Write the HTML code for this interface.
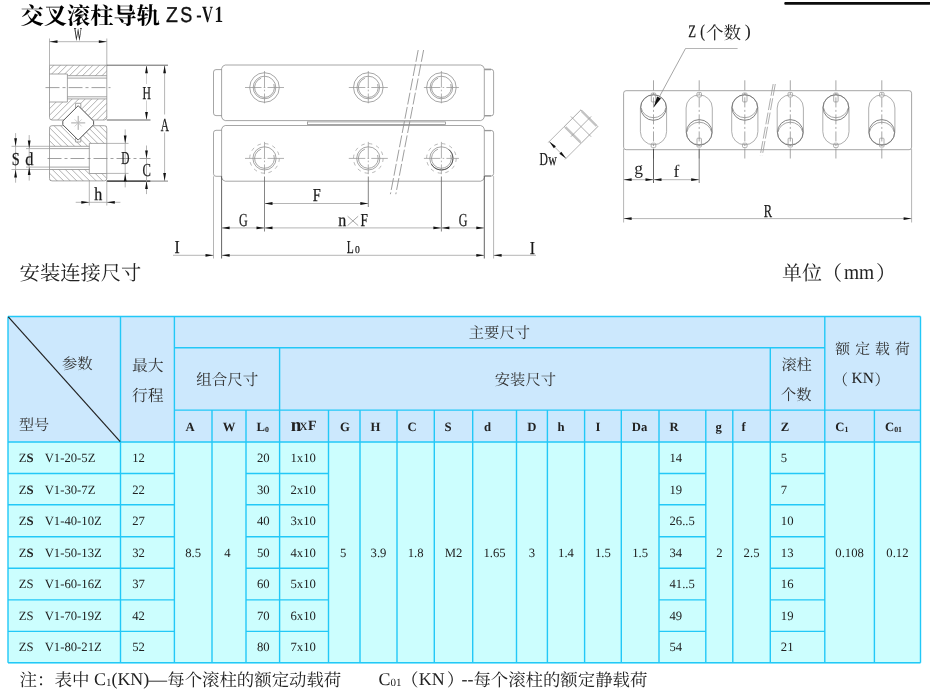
<!DOCTYPE html>
<html lang="zh"><head><meta charset="utf-8"><title>交叉滚柱导轨 ZS-V1</title>
<style>
html,body{margin:0;padding:0;background:#fff}
body{will-change:transform;text-rendering:geometricPrecision;width:930px;height:690px;position:relative;overflow:hidden;font-family:"Liberation Serif",serif;color:#222}
svg{position:absolute;left:0;top:0}
.t{position:absolute;white-space:nowrap;line-height:1;font-family:"Liberation Serif",serif}
.t sub{font-size:62%;vertical-align:baseline;position:relative;top:.12em}
.a{position:absolute;white-space:nowrap;line-height:1;color:transparent;font-family:"Liberation Serif",serif;pointer-events:none}
.o{stroke:#888;stroke-width:.75;fill:none}
.o2{stroke:#9a9a9a;stroke-width:.8;fill:none}
.k{stroke:#3c3c3c;stroke-width:.8;fill:none}
.k2{stroke:#666;stroke-width:.8;fill:none}
.k3{stroke:#747474;stroke-width:.9;fill:none}
.dm{stroke:#a2a2a2;stroke-width:.8;fill:none}
.dl{stroke:#c4c4c4;stroke-width:.8;fill:none}
.ht{stroke:#7c7c7c;stroke-width:.6;fill:none}
.cl{stroke:#888;stroke-width:.8;fill:none;stroke-dasharray:14 3 3 3}
.cl2{stroke:#8a8a8a;stroke-width:.75;fill:none;stroke-dasharray:10.04 2.5 2 2.5}
.cm{stroke:#949494;stroke-width:.75;fill:none;stroke-dasharray:16.5 2.2 1.6 2.2}
.ds{stroke:#a0a0a0;stroke-width:.75;fill:none;stroke-dasharray:3.6 4.15}
.br{stroke:#8c8c8c;stroke-width:.85;fill:none;stroke-dasharray:12 2.5}
.br2{stroke:#999;stroke-width:.8;fill:none;stroke-dasharray:12 2.5}
.tk{stroke:#c4c4c4;stroke-width:2.4;fill:none}
.ar{fill:#111;stroke:none}
.lb{font-family:"Liberation Serif",serif;fill:#1a1a1a;stroke:#1a1a1a;stroke-width:.25}
.lb3{font-family:"Liberation Serif",serif;fill:#222}
.lb2{font-family:"Liberation Sans",sans-serif;fill:#555}
.ts{font-family:"Liberation Sans",sans-serif;fill:#111;stroke:#111;stroke-width:.35}
.tb{font-family:"Liberation Serif",serif;font-weight:bold;fill:#111}
.cj{font-family:"Liberation Serif","Noto Serif CJK SC",serif}
</style></head><body>
<svg width="930" height="690" viewBox="0 0 930 690" role="img" aria-label="交叉滚柱导轨 ZS-V1 结构图与尺寸表">
<g id="table"><rect x="8" y="316.5" width="912.5" height="125.5" fill="#cce8fd"/><rect x="8" y="442.0" width="912.5" height="221.59999999999997" fill="#ccfefe"/><path d="M8 316.5H920.5M8 662.8H920.5M8 316.5V662.8M920.5 316.5V662.8M120.5 316.5V662.8M174.4 316.5V662.8M174.4 347.8H824.8M824.8 316.5V662.8M174.4 410.1H920.5M279.6 347.8V662.8M770.3 347.8V662.8M8 442.0H920.5M212 410.1V662.8M246 410.1V662.8M328.5 410.1V662.8M360 410.1V662.8M397 410.1V662.8M434.3 410.1V662.8M472.7 410.1V662.8M516.5 410.1V662.8M547.4 410.1V662.8M584.6 410.1V662.8M621.3 410.1V662.8M659 410.1V662.8M705.8 410.1V662.8M732.8 410.1V662.8M874.4 410.1V662.8M8 473.5H174.4M246 473.5H328.5M659 473.5H705.8M770.3 473.5H824.8M8 504.8H174.4M246 504.8H328.5M659 504.8H705.8M770.3 504.8H824.8M8 536.8H174.4M246 536.8H328.5M659 536.8H705.8M770.3 536.8H824.8M8 568.2H174.4M246 568.2H328.5M659 568.2H705.8M770.3 568.2H824.8M8 599.9H174.4M246 599.9H328.5M659 599.9H705.8M770.3 599.9H824.8M8 631.4H174.4M246 631.4H328.5M659 631.4H705.8M770.3 631.4H824.8" stroke="#22c8f7" stroke-width="1.4" fill="none"/><line x1="8.3" y1="316.8" x2="120.2" y2="441.7" stroke="#222" stroke-width="1.2"/></g>
<g id="drawing"><clipPath id="cu"><path d="M49.5 65.2H106.8V75.7H67.4V74H49.5ZM49.5 102H67.4V98.9H106.8V120.0H92.5L80.8 108.3V103.3H75.6V108.3L63.9 120.0H49.5Z"/></clipPath>
<path d="M-25.5 60.2L-90.3 125M-19 60.2L-83.8 125M-12.5 60.2L-77.3 125M-6 60.2L-70.8 125M0.5 60.2L-64.3 125M7 60.2L-57.8 125M13.5 60.2L-51.3 125M20 60.2L-44.8 125M26.5 60.2L-38.3 125M33 60.2L-31.8 125M39.5 60.2L-25.3 125M46 60.2L-18.8 125M52.5 60.2L-12.3 125M59 60.2L-5.8 125M65.5 60.2L0.7 125M72 60.2L7.2 125M78.5 60.2L13.7 125M85 60.2L20.2 125M91.5 60.2L26.7 125M98 60.2L33.2 125M104.5 60.2L39.7 125M111 60.2L46.2 125M117.5 60.2L52.7 125M124 60.2L59.2 125M130.5 60.2L65.7 125M137 60.2L72.2 125M143.5 60.2L78.7 125M150 60.2L85.2 125M156.5 60.2L91.7 125M163 60.2L98.2 125M169.5 60.2L104.7 125M176 60.2L111.2 125M182.5 60.2L117.7 125M189 60.2L124.2 125" class="ht" clip-path="url(#cu)"/>
<clipPath id="cl"><path d="M49.5 125.7H63.8L75.6 137.5V142H80.8V137.5L92.6 125.7H106.8V143.4H89.3V146.3H49.5ZM49.5 169.5H89.3V173.5H106.8V180.9H49.5Z"/></clipPath>
<path d="M-35.5 120.7L29.7 185.9M-29 120.7L36.2 185.9M-22.5 120.7L42.7 185.9M-16 120.7L49.2 185.9M-9.5 120.7L55.7 185.9M-3 120.7L62.2 185.9M3.5 120.7L68.7 185.9M10 120.7L75.2 185.9M16.5 120.7L81.7 185.9M23 120.7L88.2 185.9M29.5 120.7L94.7 185.9M36 120.7L101.2 185.9M42.5 120.7L107.7 185.9M49 120.7L114.2 185.9M55.5 120.7L120.7 185.9M62 120.7L127.2 185.9M68.5 120.7L133.7 185.9M75 120.7L140.2 185.9M81.5 120.7L146.7 185.9M88 120.7L153.2 185.9M94.5 120.7L159.7 185.9M101 120.7L166.2 185.9M107.5 120.7L172.7 185.9M114 120.7L179.2 185.9M120.5 120.7L185.7 185.9M127 120.7L192.2 185.9M133.5 120.7L198.7 185.9M140 120.7L205.2 185.9M146.5 120.7L211.7 185.9M153 120.7L218.2 185.9M159.5 120.7L224.7 185.9M166 120.7L231.2 185.9M172.5 120.7L237.7 185.9M179 120.7L244.2 185.9" class="ht" clip-path="url(#cl)"/>
<path d="M49.5 65.2H106.8V117.5Q106.8 120.0 104.3 120.0H92.5L80.8 108.3V103.3H75.6V108.3L63.9 120.0H52Q49.5 120.0 49.5 117.5Z" class="o"/>
<path d="M49.5 74H67.4V102H49.5M67.4 75.7H106.8M67.4 78.1H106.8M67.4 96.8H106.8M67.4 98.9H106.8" class="o"/>
<path d="M52 125.7H63.8L75.6 137.5V142H80.8V137.5L92.6 125.7H104.3Q106.8 125.7 106.8 128.2V178.4Q106.8 180.9 104.3 180.9H52Q49.5 180.9 49.5 178.4V128.2Q49.5 125.7 52 125.7Z" class="o"/>
<path d="M106.8 143.4H89.3V173.5H106.8M49.5 146.3H89.3M49.5 148.6H89.3M49.5 167.1H89.3M49.5 169.5H89.3" class="o"/>
<path d="M78.2 105.7L93.6 121.1V124.7L78.2 140.1L62.8 124.7V121.1Z" stroke="#5a5a5a" stroke-width="1" fill="#fff"/>
<path d="M71.2 122.9H85.2M78.2 115.9V129.9" class="o"/>
<path d="M74.7 119.4L81.7 126.4M81.7 119.4L74.7 126.4" class="dl"/>
<line x1="45.5" y1="87.6" x2="110.5" y2="87.6" class="cl"/>
<line x1="47.5" y1="158.5" x2="150.5" y2="158.5" class="cl"/>
<line x1="49.5" y1="38.5" x2="49.5" y2="65.2" class="dm"/>
<line x1="106.8" y1="38.5" x2="106.8" y2="65.2" class="dm"/>
<line x1="49.5" y1="41.7" x2="106.8" y2="41.7" class="dm"/>
<path d="M49.5 41.7L57.5 40.3L57.5 43.1Z" class="ar"/>
<path d="M106.8 41.7L98.8 43.1L98.8 40.3Z" class="ar"/>
<text x="78" y="39.6" class="lb" font-size="18.3" text-anchor="middle" textLength="7.8" lengthAdjust="spacingAndGlyphs">W</text>
<line x1="106.8" y1="65.2" x2="168" y2="65.2" class="k"/>
<line x1="106.8" y1="120" x2="150.5" y2="120" class="k"/>
<line x1="106.8" y1="181.1" x2="168" y2="181.1" class="k2"/>
<line x1="106.8" y1="181.1" x2="150.3" y2="181.1" stroke="#333" stroke-width="1.3"/>
<line x1="146.5" y1="65.2" x2="146.5" y2="120" class="dl"/>
<path d="M146.5 65.2L147.9 73.2L145.1 73.2Z" class="ar"/>
<path d="M146.5 120L145.1 112L147.9 112Z" class="ar"/>
<line x1="164.6" y1="65.2" x2="164.6" y2="181.1" class="dm"/>
<path d="M164.6 65.2L166 73.2L163.2 73.2Z" class="ar"/>
<path d="M164.6 181.1L163.2 173.1L166 173.1Z" class="ar"/>
<rect x="144" y="84" width="5" height="16.5" fill="#fff"/>
<text x="146.7" y="98.6" class="lb" font-size="18.3" text-anchor="middle" textLength="8.4" lengthAdjust="spacingAndGlyphs">H</text>
<rect x="162" y="114.5" width="5" height="18" fill="#fff"/>
<text x="164.9" y="130.8" class="lb" font-size="18.3" text-anchor="middle" textLength="8.2" lengthAdjust="spacingAndGlyphs">A</text>
<line x1="106.8" y1="143.4" x2="128.5" y2="143.4" class="dm"/>
<line x1="106.8" y1="173.4" x2="128.5" y2="173.4" class="dm"/>
<line x1="125.2" y1="129.4" x2="125.2" y2="187.4" class="dm"/>
<path d="M125.2 143.4L123.8 135.4L126.6 135.4Z" class="ar"/>
<path d="M125.2 173.4L126.6 181.4L123.8 181.4Z" class="ar"/>
<text x="125.3" y="164.2" class="lb" font-size="18.3" text-anchor="middle" textLength="8.2" lengthAdjust="spacingAndGlyphs">D</text>
<line x1="146.5" y1="145.5" x2="146.5" y2="194.1" class="dm"/>
<path d="M146.5 158.5L145.1 150.5L147.9 150.5Z" class="ar"/>
<path d="M146.5 181.1L147.9 189.1L145.1 189.1Z" class="ar"/>
<text x="146.8" y="175.6" class="lb" font-size="18.3" text-anchor="middle" textLength="8.4" lengthAdjust="spacingAndGlyphs">C</text>
<line x1="11.5" y1="146.3" x2="49.5" y2="146.3" class="dm"/>
<line x1="11.5" y1="169.5" x2="49.5" y2="169.5" class="dm"/>
<line x1="26" y1="148.6" x2="49.5" y2="148.6" class="dm"/>
<line x1="26" y1="167.1" x2="49.5" y2="167.1" class="dm"/>
<line x1="15.6" y1="133.1" x2="15.6" y2="182.7" class="dm"/>
<path d="M15.6 146.3L14.2 138.3L17 138.3Z" class="ar"/>
<path d="M15.6 169.5L17 177.5L14.2 177.5Z" class="ar"/>
<line x1="29.2" y1="135.1" x2="29.2" y2="180.6" class="dm"/>
<path d="M29.2 148.6L27.8 140.6L30.6 140.6Z" class="ar"/>
<path d="M29.2 167.1L30.6 175.1L27.8 175.1Z" class="ar"/>
<text x="15.8" y="164.8" class="lb" font-size="18.3" text-anchor="middle" textLength="8" lengthAdjust="spacingAndGlyphs">S</text>
<text x="29.4" y="164.8" class="lb" font-size="18.3" text-anchor="middle" textLength="8.2" lengthAdjust="spacingAndGlyphs">d</text>
<line x1="89.3" y1="180.9" x2="89.3" y2="205.5" class="dm"/>
<line x1="106.8" y1="180.9" x2="106.8" y2="205.5" class="dm"/>
<line x1="75.7" y1="202.3" x2="120.4" y2="202.3" class="dm"/>
<path d="M89.3 202.3L81.3 203.7L81.3 200.9Z" class="ar"/>
<path d="M106.8 202.3L114.8 200.9L114.8 203.7Z" class="ar"/>
<text x="98.3" y="200.3" class="lb" font-size="18.3" text-anchor="middle" textLength="8" lengthAdjust="spacingAndGlyphs">h</text>
<path d="M225.2 65.0H480.7Q483.7 65.6 484.3 68.6V117Q483.7 120 480.7 120.6H225.2Q222.2 120 221.6 117V68.6Q222.2 65.6 225.2 65.0Z" class="o"/>
<path d="M225.2 125.5H480.7Q483.7 126.1 484.3 129.1V177.6Q483.7 180.6 480.7 181.2H225.2Q222.2 180.6 221.6 177.6V129.1Q222.2 126.1 225.2 125.5Z" class="o"/>
<path d="M221.6 69.6H216Q213.5 69.6 213.5 72.1V113.1Q213.5 115.6 216 115.6H221.6" class="o"/>
<path d="M221.6 130.3H216Q213.5 130.3 213.5 132.8V173.8Q213.5 176.3 216 176.3H221.6" class="o"/>
<path d="M484.3 69.3H491.1Q493.6 69.3 493.6 71.8V113.3Q493.6 115.8 491.1 115.8H484.3" class="o"/>
<path d="M484.3 130.4H491.1Q493.6 130.4 493.6 132.9V173.6Q493.6 176.1 491.1 176.1H484.3" class="o"/>
<path d="M484.6 130.6H491M484.6 176H491M484.6 69.5H491M484.6 115.6H491" stroke="#999" stroke-width="1.3" fill="none"/>
<rect x="307.6" y="121.9" width="138" height="2.5" class="o" fill="#ccc"/>
<circle cx="264.5" cy="87.5" r="14.8" class="o"/>
<circle cx="264.5" cy="87.5" r="11.3" class="o"/>
<path d="M273.8 84.11A9.9 9.9 0 1 1 261.11 78.2" class="o"/>
<circle cx="264.5" cy="158.4" r="14.8" class="ds"/>
<circle cx="264.5" cy="158.4" r="11.6" class="o"/>
<path d="M273.8 155.01A9.9 9.9 0 1 1 261.11 149.1" class="o"/>
<line x1="245" y1="87.5" x2="284" y2="87.5" class="cm" stroke-dasharray="16.5 2 2 2"/>
<line x1="264.5" y1="71" x2="264.5" y2="103.3" class="cm" stroke-dasharray="13.3 2 2 2"/>
<line x1="245" y1="158.4" x2="284" y2="158.4" class="cm" stroke-dasharray="16.5 2 2 2"/>
<line x1="264.5" y1="141.9" x2="264.5" y2="174.2" class="cm" stroke-dasharray="13.3 2 2 2"/>
<circle cx="368.3" cy="87.5" r="14.8" class="o"/>
<circle cx="368.3" cy="87.5" r="11.3" class="o"/>
<path d="M377.6 84.11A9.9 9.9 0 1 1 364.91 78.2" class="o"/>
<circle cx="368.3" cy="158.4" r="14.8" class="ds"/>
<circle cx="368.3" cy="158.4" r="11.6" class="o"/>
<path d="M377.6 155.01A9.9 9.9 0 1 1 364.91 149.1" class="o"/>
<line x1="348.8" y1="87.5" x2="387.8" y2="87.5" class="cm" stroke-dasharray="16.5 2 2 2"/>
<line x1="368.3" y1="71" x2="368.3" y2="103.3" class="cm" stroke-dasharray="13.3 2 2 2"/>
<line x1="348.8" y1="158.4" x2="387.8" y2="158.4" class="cm" stroke-dasharray="16.5 2 2 2"/>
<line x1="368.3" y1="141.9" x2="368.3" y2="174.2" class="cm" stroke-dasharray="13.3 2 2 2"/>
<circle cx="441.4" cy="87.5" r="14.8" class="o"/>
<circle cx="441.4" cy="87.5" r="11.3" class="o"/>
<path d="M450.7 84.11A9.9 9.9 0 1 1 438.01 78.2" class="o"/>
<circle cx="441.4" cy="158.4" r="14.8" class="ds"/>
<circle cx="441.4" cy="158.4" r="11.6" class="o"/>
<path d="M448.86 149.51A11.6 11.6 0 1 1 431.35 164.2" class="k"/>
<path d="M450.7 155.01A9.9 9.9 0 1 1 438.01 149.1" class="o"/>
<line x1="423.9" y1="87.5" x2="458.9" y2="87.5" class="cm" stroke-dasharray="14.5 2 2 2"/>
<line x1="441.4" y1="71" x2="441.4" y2="103.3" class="cm" stroke-dasharray="13.3 2 2 2"/>
<line x1="423.9" y1="158.4" x2="458.9" y2="158.4" class="cm" stroke-dasharray="14.5 2 2 2"/>
<line x1="441.4" y1="141.9" x2="441.4" y2="174.2" class="cm" stroke-dasharray="13.3 2 2 2"/>
<line x1="418.2" y1="50" x2="390.4" y2="194.2" class="br"/>
<line x1="423.6" y1="50" x2="395.8" y2="194.2" class="br"/>
<line x1="213.5" y1="176.3" x2="213.5" y2="258.5" class="dm"/>
<line x1="221.6" y1="176.3" x2="221.6" y2="258.5" class="k"/>
<line x1="484.3" y1="176.1" x2="484.3" y2="258.5" class="k"/>
<line x1="493.6" y1="176.1" x2="493.6" y2="258.5" class="dm"/>
<line x1="264.5" y1="176.5" x2="264.5" y2="231.5" class="k2"/>
<line x1="368.3" y1="176.5" x2="368.3" y2="207" class="k2"/>
<line x1="441.4" y1="176.5" x2="441.4" y2="231.5" class="k2"/>
<line x1="264.5" y1="203.5" x2="368.3" y2="203.5" class="dm"/>
<path d="M264.5 203.5L272.5 202.1L272.5 204.9Z" class="ar"/>
<path d="M368.3 203.5L360.3 204.9L360.3 202.1Z" class="ar"/>
<line x1="221.6" y1="227.9" x2="264.5" y2="227.9" class="dm"/>
<path d="M221.6 227.9L229.6 226.5L229.6 229.3Z" class="ar"/>
<path d="M264.5 227.9L256.5 229.3L256.5 226.5Z" class="ar"/>
<line x1="264.5" y1="227.9" x2="441.4" y2="227.9" class="dm"/>
<path d="M264.5 227.9L272.5 226.5L272.5 229.3Z" class="ar"/>
<path d="M441.4 227.9L433.4 229.3L433.4 226.5Z" class="ar"/>
<line x1="441.4" y1="227.9" x2="484.3" y2="227.9" class="dm"/>
<path d="M441.4 227.9L449.4 226.5L449.4 229.3Z" class="ar"/>
<path d="M484.3 227.9L476.3 229.3L476.3 226.5Z" class="ar"/>
<line x1="221.6" y1="255.3" x2="484.3" y2="255.3" class="dm"/>
<path d="M221.6 255.3L229.6 253.9L229.6 256.7Z" class="ar"/>
<path d="M484.3 255.3L476.3 256.7L476.3 253.9Z" class="ar"/>
<line x1="173" y1="255.3" x2="213.5" y2="255.3" class="dm"/>
<path d="M213.5 255.3L205.5 256.7L205.5 253.9Z" class="ar"/>
<line x1="493.6" y1="255.3" x2="536" y2="255.3" class="dm"/>
<path d="M493.6 255.3L501.6 253.9L501.6 256.7Z" class="ar"/>
<text x="316.7" y="201" class="lb" font-size="18.3" text-anchor="middle" textLength="8" lengthAdjust="spacingAndGlyphs">F</text>
<text x="243.4" y="225.7" class="lb" font-size="18.3" text-anchor="middle" textLength="8.7" lengthAdjust="spacingAndGlyphs">G</text>
<text x="463.2" y="225.7" class="lb" font-size="18.3" text-anchor="middle" textLength="8.7" lengthAdjust="spacingAndGlyphs">G</text>
<text x="342.2" y="225.8" class="lb" font-size="18.3" text-anchor="middle" textLength="8" lengthAdjust="spacingAndGlyphs">n</text>
<path d="M347.6 216.2L358.2 225.6M358.2 216.2L347.6 225.6" class="o"/>
<text x="364.3" y="225.8" class="lb" font-size="18.3" text-anchor="middle" textLength="7.4" lengthAdjust="spacingAndGlyphs">F</text>
<text x="350.3" y="253.2" class="lb" font-size="18.3" text-anchor="middle" textLength="7" lengthAdjust="spacingAndGlyphs">L</text>
<text x="357.4" y="253.2" class="lb" font-size="10.5" text-anchor="middle" textLength="4.8" lengthAdjust="spacingAndGlyphs">0</text>
<text x="177" y="253.4" class="lb" font-size="18.3" text-anchor="middle" textLength="5.2" lengthAdjust="spacingAndGlyphs">I</text>
<text x="532.4" y="253.8" class="lb" font-size="18.3" text-anchor="middle" textLength="5.2" lengthAdjust="spacingAndGlyphs">I</text>
<path d="M581 109.8L597.8 126.6L581 143.4L564.2 126.6Z" class="o"/>
<path d="M581.6 111L596.6 126M565.4 127.2L580.4 142.2" class="tk"/>
<line x1="591.17" y1="116.43" x2="570.83" y2="136.77" class="o2"/>
<line x1="570.83" y1="116.43" x2="591.17" y2="136.77" class="o2"/>
<line x1="564.2" y1="126.6" x2="548.22" y2="142.58" class="dm"/>
<line x1="581" y1="143.4" x2="565.02" y2="159.38" class="dm"/>
<line x1="549.22" y1="141.58" x2="566.02" y2="158.38" class="dm"/>
<path d="M549.22 141.58L555.87 146.25L553.89 148.23Z" class="ar"/>
<path d="M566.02 158.38L559.37 153.71L561.35 151.73Z" class="ar"/>
<text x="543.6" y="165.4" class="lb" font-size="18.3" text-anchor="middle" textLength="8.4" lengthAdjust="spacingAndGlyphs">D</text>
<text x="552.6" y="165.4" class="lb" font-size="17" text-anchor="middle" textLength="8.6" lengthAdjust="spacingAndGlyphs">w</text>
<rect x="623.6" y="90.7" width="288" height="59" rx="2.5" class="o"/>
<rect x="640.4" y="94.9" width="26.2" height="49.9" rx="13.1" class="o2"/>
<circle cx="653.5" cy="107.5" r="12.8" class="k3"/>
<path d="M666.02 107.56A12.8 12.8 0 0 1 640.98 107.56" class="o"/>
<rect x="651.3" y="93.1" width="4.4" height="8.8" rx=".8" class="o2"/>
<rect x="651.2" y="143.2" width="4.6" height="4.4" rx="1.3" class="o2"/>
<line x1="653.5" y1="80.3" x2="653.5" y2="158.5" class="cl2"/>
<rect x="686.1" y="94.9" width="26.2" height="49.9" rx="13.1" class="o2"/>
<circle cx="699.2" cy="132.4" r="12.8" class="k3"/>
<path d="M686.68 132.34A12.8 12.8 0 0 1 711.72 132.34" class="o"/>
<rect x="696.9" y="92.4" width="4.6" height="4.6" rx="1.3" class="o2"/>
<rect x="697" y="138.2" width="4.4" height="8.8" rx=".8" class="o2"/>
<line x1="699.2" y1="80.3" x2="699.2" y2="158.5" class="cl2"/>
<rect x="731.7" y="94.9" width="26.2" height="49.9" rx="13.1" class="o2"/>
<circle cx="744.8" cy="107.5" r="12.8" class="k3"/>
<path d="M757.32 107.56A12.8 12.8 0 0 1 732.28 107.56" class="o"/>
<rect x="742.6" y="93.1" width="4.4" height="8.8" rx=".8" class="o2"/>
<rect x="742.5" y="143.2" width="4.6" height="4.4" rx="1.3" class="o2"/>
<line x1="744.8" y1="80.3" x2="744.8" y2="158.5" class="cl2"/>
<rect x="777.2" y="94.9" width="26.2" height="49.9" rx="13.1" class="o2"/>
<circle cx="790.3" cy="132.4" r="12.8" class="k3"/>
<path d="M777.78 132.34A12.8 12.8 0 0 1 802.82 132.34" class="o"/>
<rect x="788" y="92.4" width="4.6" height="4.6" rx="1.3" class="o2"/>
<rect x="788.1" y="138.2" width="4.4" height="8.8" rx=".8" class="o2"/>
<line x1="790.3" y1="80.3" x2="790.3" y2="158.5" class="cl2"/>
<rect x="822.8" y="94.9" width="26.2" height="49.9" rx="13.1" class="o2"/>
<circle cx="835.9" cy="107.5" r="12.8" class="k3"/>
<path d="M848.42 107.56A12.8 12.8 0 0 1 823.38 107.56" class="o"/>
<rect x="833.7" y="93.1" width="4.4" height="8.8" rx=".8" class="o2"/>
<rect x="833.6" y="143.2" width="4.6" height="4.4" rx="1.3" class="o2"/>
<line x1="835.9" y1="80.3" x2="835.9" y2="158.5" class="cl2"/>
<rect x="868.7" y="94.9" width="26.2" height="49.9" rx="13.1" class="o2"/>
<circle cx="881.8" cy="132.4" r="12.8" class="k3"/>
<path d="M869.28 132.34A12.8 12.8 0 0 1 894.32 132.34" class="o"/>
<rect x="879.5" y="92.4" width="4.6" height="4.6" rx="1.3" class="o2"/>
<rect x="879.6" y="138.2" width="4.4" height="8.8" rx=".8" class="o2"/>
<line x1="881.8" y1="80.3" x2="881.8" y2="158.5" class="cl2"/>
<line x1="773.2" y1="84" x2="760.2" y2="155.5" class="br2"/>
<line x1="775.3" y1="84" x2="762.3" y2="155.5" class="br2"/>
<line x1="623.6" y1="149" x2="623.6" y2="222.5" class="dm"/>
<line x1="911.6" y1="149" x2="911.6" y2="222.5" class="dm"/>
<line x1="653.5" y1="149" x2="653.5" y2="183" class="k"/>
<line x1="699.2" y1="149" x2="699.2" y2="183" class="k2"/>
<line x1="623.6" y1="179.7" x2="653.5" y2="179.7" class="dm"/>
<path d="M623.6 179.7L631.6 178.3L631.6 181.1Z" class="ar"/>
<path d="M653.5 179.7L645.5 181.1L645.5 178.3Z" class="ar"/>
<line x1="653.5" y1="179.7" x2="699.2" y2="179.7" class="dm"/>
<path d="M653.5 179.7L661.5 178.3L661.5 181.1Z" class="ar"/>
<path d="M699.2 179.7L691.2 181.1L691.2 178.3Z" class="ar"/>
<line x1="623.6" y1="218.6" x2="911.6" y2="218.6" class="dm"/>
<path d="M623.6 218.6L631.6 217.2L631.6 220Z" class="ar"/>
<path d="M911.6 218.6L903.6 220L903.6 217.2Z" class="ar"/>
<text x="638.6" y="174.1" class="lb3" font-size="17.5" text-anchor="middle">g</text>
<text x="676.3" y="177.3" class="lb3" font-size="17.5" text-anchor="middle">f</text>
<text x="767.8" y="216.8" class="lb" font-size="18.3" text-anchor="middle" textLength="8.3" lengthAdjust="spacingAndGlyphs">R</text>
<line x1="685.5" y1="48.5" x2="737.6" y2="48.5" class="dm"/>
<line x1="685.5" y1="48.5" x2="654.2" y2="106.3" class="o"/>
<path d="M653.6 107.5L657.09 96.43L660.96 98.52Z" class="ar"/>
<text x="692.2" y="37.4" class="lb" font-size="17.5" text-anchor="middle" textLength="7.8" lengthAdjust="spacingAndGlyphs">Z</text>
<text x="702.6" y="37" class="lb" font-size="18" text-anchor="middle" textLength="4.6" lengthAdjust="spacingAndGlyphs">(</text>
<rect x="784.3" y="1.9" width="146" height="2.8" rx="1" fill="#0c0c0c"/>
<line x1="148.2" y1="681.2" x2="167.2" y2="681.2" stroke="#333" stroke-width="1"/>
<text x="166.0" y="21.9" font-size="21.5" textLength="11.9" lengthAdjust="spacingAndGlyphs" class="ts">Z</text>
<text x="180.2" y="21.9" font-size="21.5" textLength="12.0" lengthAdjust="spacingAndGlyphs" class="ts">S</text>
<text x="196.2" y="21.9" font-size="23.3" textLength="5.4" lengthAdjust="spacingAndGlyphs" class="tb">-</text>
<text x="202.0" y="21.9" font-size="23.3" textLength="11.0" lengthAdjust="spacingAndGlyphs" class="tb">V</text>
<text x="214.6" y="21.9" font-size="23.3" textLength="8.6" lengthAdjust="spacingAndGlyphs" class="tb">1</text></g>
<g id="cjk">
<text class="cj" x="706" y="38.6" font-size="17.5" fill="#222">个数</text>
<text class="cj" x="747.7" y="37" font-size="18" fill="#222" text-anchor="middle">)</text>
<text class="cj" x="20.5" y="23.8" font-size="23.2" font-weight="bold" fill="#000" textLength="139.5" lengthAdjust="spacing">交叉滚柱导轨</text>
<text class="cj" x="19.6" y="280.4" font-size="20.3" fill="#222" textLength="121.8" lengthAdjust="spacing">安装连接尺寸</text>
<text class="cj" x="782" y="280.4" font-size="20" fill="#222">单位（</text>
<text class="cj" x="876" y="280.4" font-size="20" fill="#222">）</text>
<text class="cj" x="62" y="369.4" font-size="15.3" fill="#333">参数</text>
<text class="cj" x="19" y="430" font-size="15.1" fill="#333">型号</text>
<text class="cj" x="132" y="370.6" font-size="15.8" fill="#333">最大</text>
<text class="cj" x="132" y="400.6" font-size="15.8" fill="#333">行程</text>
<text class="cj" x="468.8" y="338" font-size="15.3" fill="#333">主要尺寸</text>
<text class="cj" x="196.2" y="384.8" font-size="15.5" fill="#333">组合尺寸</text>
<text class="cj" x="494.8" y="384.8" font-size="15.3" fill="#333">安装尺寸</text>
<text class="cj" x="781.4" y="369.8" font-size="15.2" fill="#333">滚柱</text>
<text class="cj" x="781" y="400.3" font-size="15.2" fill="#333">个数</text>
<text class="cj" x="835.3" y="354.4" font-size="14.8" fill="#333" letter-spacing="5.1">额定载荷</text>
<text class="cj" x="833" y="384.8" font-size="15" fill="#333">（</text>
<text class="cj" x="874.5" y="384.8" font-size="15" fill="#333">）</text>
<text class="cj" x="19.4" y="686.2" font-size="17.5" fill="#222">注：表中</text>
<text class="cj" x="167.3" y="686.2" font-size="17.4" fill="#222">每个滚柱的额定动载荷</text>
<text class="cj" x="401" y="686.2" font-size="17.5" fill="#222">（</text>
<text class="cj" x="446.8" y="686.2" font-size="17.5" fill="#222">）</text>
<text class="cj" x="473.4" y="686.2" font-size="17.4" fill="#222">每个滚柱的额定静载荷</text>
</g></svg>
<span class="t" style="left:190.2px;top:420.66px;font-size:12.7px;font-weight:bold;transform:translateX(-50%);">A</span>
<span class="t" style="left:229px;top:420.66px;font-size:12.7px;font-weight:bold;transform:translateX(-50%);">W</span>
<span class="t" style="left:262.8px;top:420.66px;font-size:12.7px;font-weight:bold;transform:translateX(-50%);">L<sub>0</sub></span>
<span class="t" style="left:290.8px;top:415.89px;font-size:19px;font-weight:bold;">n</span>
<span class="t" style="left:299.6px;top:418.4px;font-size:16px;">x</span>
<span class="t" style="left:308px;top:420.07px;font-size:14px;font-weight:bold;">F</span>
<span class="t" style="left:340px;top:420.66px;font-size:12.7px;font-weight:bold;">G</span>
<span class="t" style="left:370.5px;top:420.66px;font-size:12.7px;font-weight:bold;">H</span>
<span class="t" style="left:407.5px;top:420.66px;font-size:12.7px;font-weight:bold;">C</span>
<span class="t" style="left:444.5px;top:420.66px;font-size:12.7px;font-weight:bold;">S</span>
<span class="t" style="left:484px;top:420.66px;font-size:12.7px;font-weight:bold;">d</span>
<span class="t" style="left:527.3px;top:420.66px;font-size:12.7px;font-weight:bold;">D</span>
<span class="t" style="left:557.5px;top:420.66px;font-size:12.7px;font-weight:bold;">h</span>
<span class="t" style="left:595.5px;top:420.66px;font-size:12.7px;font-weight:bold;">I</span>
<span class="t" style="left:631.8px;top:420.66px;font-size:12.7px;font-weight:bold;">Da</span>
<span class="t" style="left:669.5px;top:420.66px;font-size:12.7px;font-weight:bold;">R</span>
<span class="t" style="left:715.5px;top:420.66px;font-size:12.7px;font-weight:bold;">g</span>
<span class="t" style="left:741.5px;top:420.66px;font-size:12.7px;font-weight:bold;">f</span>
<span class="t" style="left:780.8px;top:420.66px;font-size:12.7px;font-weight:bold;">Z</span>
<span class="t" style="left:835.3px;top:420.66px;font-size:12.7px;font-weight:bold;">C<sub>1</sub></span>
<span class="t" style="left:885px;top:420.66px;font-size:12.7px;font-weight:bold;">C<sub>01</sub></span>
<span class="t" style="left:851.5px;top:371.02px;font-size:15.5px;">KN</span>
<span class="t" style="left:843.6px;top:261.91px;font-size:21px;transform:scaleX(.925);transform-origin:0 0;">mm</span>
<span class="t" style="left:18.8px;top:452.11px;font-size:12.7px;">Z<b>S</b></span>
<span class="t" style="left:44.7px;top:452.11px;font-size:12.7px;">V1-20-5Z</span>
<span class="t" style="left:132.2px;top:452.11px;font-size:12.7px;">12</span>
<span class="t" style="left:257px;top:452.11px;font-size:12.7px;">20</span>
<span class="t" style="left:290.5px;top:452.11px;font-size:12.7px;">1x10</span>
<span class="t" style="left:669.5px;top:452.11px;font-size:12.7px;">14</span>
<span class="t" style="left:780.8px;top:452.11px;font-size:12.7px;">5</span>
<span class="t" style="left:18.8px;top:483.51px;font-size:12.7px;">Z<b>S</b></span>
<span class="t" style="left:44.7px;top:483.51px;font-size:12.7px;">V1-30-7Z</span>
<span class="t" style="left:132.2px;top:483.51px;font-size:12.7px;">22</span>
<span class="t" style="left:257px;top:483.51px;font-size:12.7px;">30</span>
<span class="t" style="left:290.5px;top:483.51px;font-size:12.7px;">2x10</span>
<span class="t" style="left:669.5px;top:483.51px;font-size:12.7px;">19</span>
<span class="t" style="left:780.8px;top:483.51px;font-size:12.7px;">7</span>
<span class="t" style="left:18.8px;top:515.16px;font-size:12.7px;">Z<b>S</b></span>
<span class="t" style="left:44.7px;top:515.16px;font-size:12.7px;">V1-40-10Z</span>
<span class="t" style="left:132.2px;top:515.16px;font-size:12.7px;">27</span>
<span class="t" style="left:257px;top:515.16px;font-size:12.7px;">40</span>
<span class="t" style="left:290.5px;top:515.16px;font-size:12.7px;">3x10</span>
<span class="t" style="left:669.5px;top:515.16px;font-size:12.7px;">26..5</span>
<span class="t" style="left:780.8px;top:515.16px;font-size:12.7px;">10</span>
<span class="t" style="left:18.8px;top:546.86px;font-size:12.7px;">Z<b>S</b></span>
<span class="t" style="left:44.7px;top:546.86px;font-size:12.7px;">V1-50-13Z</span>
<span class="t" style="left:132.2px;top:546.86px;font-size:12.7px;">32</span>
<span class="t" style="left:257px;top:546.86px;font-size:12.7px;">50</span>
<span class="t" style="left:290.5px;top:546.86px;font-size:12.7px;">4x10</span>
<span class="t" style="left:669.5px;top:546.86px;font-size:12.7px;">34</span>
<span class="t" style="left:780.8px;top:546.86px;font-size:12.7px;">13</span>
<span class="t" style="left:18.8px;top:578.41px;font-size:12.7px;">ZS</span>
<span class="t" style="left:44.7px;top:578.41px;font-size:12.7px;">V1-60-16Z</span>
<span class="t" style="left:132.2px;top:578.41px;font-size:12.7px;">37</span>
<span class="t" style="left:257px;top:578.41px;font-size:12.7px;">60</span>
<span class="t" style="left:290.5px;top:578.41px;font-size:12.7px;">5x10</span>
<span class="t" style="left:669.5px;top:578.41px;font-size:12.7px;">41..5</span>
<span class="t" style="left:780.8px;top:578.41px;font-size:12.7px;">16</span>
<span class="t" style="left:18.8px;top:610.01px;font-size:12.7px;">ZS</span>
<span class="t" style="left:44.7px;top:610.01px;font-size:12.7px;">V1-70-19Z</span>
<span class="t" style="left:132.2px;top:610.01px;font-size:12.7px;">42</span>
<span class="t" style="left:257px;top:610.01px;font-size:12.7px;">70</span>
<span class="t" style="left:290.5px;top:610.01px;font-size:12.7px;">6x10</span>
<span class="t" style="left:669.5px;top:610.01px;font-size:12.7px;">49</span>
<span class="t" style="left:780.8px;top:610.01px;font-size:12.7px;">19</span>
<span class="t" style="left:18.8px;top:641.46px;font-size:12.7px;">ZS</span>
<span class="t" style="left:44.7px;top:641.46px;font-size:12.7px;">V1-80-21Z</span>
<span class="t" style="left:132.2px;top:641.46px;font-size:12.7px;">52</span>
<span class="t" style="left:257px;top:641.46px;font-size:12.7px;">80</span>
<span class="t" style="left:290.5px;top:641.46px;font-size:12.7px;">7x10</span>
<span class="t" style="left:669.5px;top:641.46px;font-size:12.7px;">54</span>
<span class="t" style="left:780.8px;top:641.46px;font-size:12.7px;">21</span>
<span class="t" style="left:193.2px;top:546.76px;font-size:12.7px;transform:translateX(-50%);">8.5</span>
<span class="t" style="left:227.5px;top:546.76px;font-size:12.7px;transform:translateX(-50%);">4</span>
<span class="t" style="left:343.25px;top:546.76px;font-size:12.7px;transform:translateX(-50%);">5</span>
<span class="t" style="left:378.5px;top:546.76px;font-size:12.7px;transform:translateX(-50%);">3.9</span>
<span class="t" style="left:415.65px;top:546.76px;font-size:12.7px;transform:translateX(-50%);">1.8</span>
<span class="t" style="left:453.5px;top:546.76px;font-size:12.7px;transform:translateX(-50%);">M2</span>
<span class="t" style="left:494.6px;top:546.76px;font-size:12.7px;transform:translateX(-50%);">1.65</span>
<span class="t" style="left:531.95px;top:546.76px;font-size:12.7px;transform:translateX(-50%);">3</span>
<span class="t" style="left:566px;top:546.76px;font-size:12.7px;transform:translateX(-50%);">1.4</span>
<span class="t" style="left:602.95px;top:546.76px;font-size:12.7px;transform:translateX(-50%);">1.5</span>
<span class="t" style="left:640.15px;top:546.76px;font-size:12.7px;transform:translateX(-50%);">1.5</span>
<span class="t" style="left:719.3px;top:546.76px;font-size:12.7px;transform:translateX(-50%);">2</span>
<span class="t" style="left:751.55px;top:546.76px;font-size:12.7px;transform:translateX(-50%);">2.5</span>
<span class="t" style="left:849.6px;top:546.76px;font-size:12.7px;transform:translateX(-50%);">0.108</span>
<span class="t" style="left:897.45px;top:546.76px;font-size:12.7px;transform:translateX(-50%);">0.12</span>
<span class="t" style="left:94px;top:671.01px;font-size:17.9px;">C<sub style="font-size:11px">1</sub>(KN)</span>
<span class="t" style="left:378.5px;top:671.01px;font-size:17.9px;">C<sub style="font-size:11px">01</sub></span>
<span class="t" style="left:418.8px;top:671.01px;font-size:17.9px;">KN</span>
<span class="t" style="left:461.5px;top:671.01px;font-size:17.9px;">--</span>
</body></html>
